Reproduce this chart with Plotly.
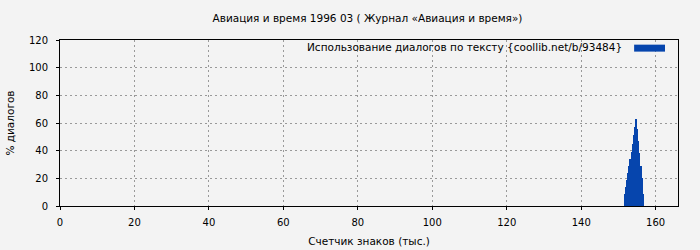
import plotly.graph_objects as go

# Data
x_thousands = [151.75, 152.05, 152.35, 152.65, 152.95, 153.25, 153.55, 153.85, 154.15,
               154.45, 154.75, 155.05, 155.35, 155.65, 155.95, 156.25, 156.55]
dialog_pct = [9, 14, 19, 24, 29, 34, 39, 45, 51, 57, 63, 56, 47, 38, 29, 20, 9]
x_ticks = [0, 20, 40, 60, 80, 100, 120, 140, 160]
y_ticks = [0, 20, 40, 60, 80, 100, 120]

title_text = "Авиация и время 1996 03 ( Журнал «Авиация и время»)"
series_name = "Использование диалогов по тексту {coollib.net/b/93484}"
x_title = "Счетчик знаков (тыс.)"
y_title = "% диалогов"

bar_color = "#0645ad"
bg = "#f3f3f3"
font_family = "DejaVu Sans"

fig = go.Figure()
fig.add_trace(go.Bar(
    x=x_thousands, y=dialog_pct, width=0.31,
    marker=dict(color=bar_color, line=dict(width=0)),
    name=series_name, showlegend=False,
))

axis_common = dict(
    showline=True, linecolor="black", linewidth=1, mirror=True,
    showgrid=True, gridcolor="#999999", griddash="2px,3px", gridwidth=1,
    zeroline=False, ticks="outside", ticklen=3, tickcolor="black",
    tickfont=dict(family=font_family, size=10, color="black"),
    automargin=False,
)

fig.update_layout(
    width=700, height=250,
    margin=dict(l=60, r=22, t=40, b=44),
    paper_bgcolor=bg, plot_bgcolor=bg,
    font=dict(family=font_family, size=10, color="black"),
    title=dict(text=title_text, x=0.525, xanchor="center", y=0.925, yanchor="middle",
               font=dict(family=font_family, size=10.5, color="black")),
    xaxis=dict(range=[0, 166], tickvals=x_ticks, ticklabelstandoff=4,
               title=dict(text=x_title, font=dict(family=font_family, size=10.5), standoff=10),
               **axis_common),
    yaxis=dict(range=[0, 120], tickvals=y_ticks, ticklabelstandoff=6,
               title=dict(text=y_title, font=dict(family=font_family, size=10.5), standoff=12),
               **axis_common),
    bargap=0,
)

# Legend (key on the right side of the label, as in the reference)
fig.add_annotation(text=series_name, xref="paper", yref="paper", x=0.912, y=0.955,
                   xanchor="right", yanchor="middle", showarrow=False,
                   font=dict(family=font_family, size=10.5, color="black"))
fig.add_shape(type="rect", xref="paper", yref="paper", x0=0.929, x1=0.979,
              y0=0.93, y1=0.972, fillcolor=bar_color, line=dict(width=0))

fig.write_html("out.html")
